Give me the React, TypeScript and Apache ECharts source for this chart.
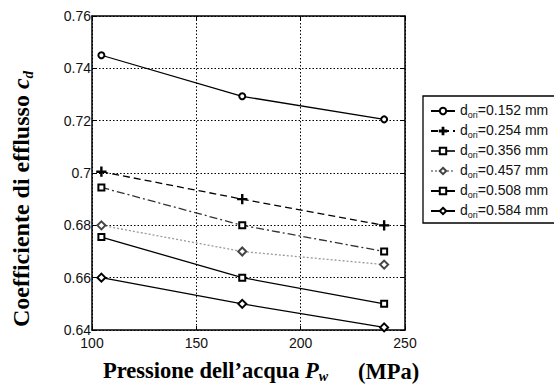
import React, { useEffect, useRef } from "react";
import * as echarts from "echarts";

const pressures = [104.5, 172, 240];
const seriesNames = ["0.152", "0.254", "0.356", "0.457", "0.508", "0.584"];
const cd152 = [0.745, 0.7293, 0.7205];
const cd254 = [0.7005, 0.69, 0.68];
const cd356 = [0.6945, 0.68, 0.67];
const cd457 = [0.68, 0.67, 0.665];
const cd508 = [0.6755, 0.66, 0.65];
const cd584 = [0.66, 0.65, 0.641];
const xTicks = [100, 150, 200, 250];
const yTicks = [0.64, 0.66, 0.68, 0.7, 0.72, 0.74, 0.76];

const PLUS = "path://M4.4,0h1.2v4.4h4.4v1.2h-4.4v4.4h-1.2v-4.4h-4.4v-1.2h4.4z";

export default function App() {
  const ref = useRef<HTMLDivElement>(null);
  useEffect(() => {
    if (!ref.current) return;
    const chart = echarts.init(ref.current, undefined, { renderer: "svg" });
    const allValues = [cd152, cd254, cd356, cd457, cd508, cd584];
    const styles = [
      { symbol: "emptyCircle", size: 6, type: "solid" as any, color: "#000", mk: "#000" },
      { symbol: PLUS, size: 9, type: [7, 4] as any, color: "#000", mk: "#000" },
      { symbol: "emptyRect", size: 6, type: [8, 3, 2, 3] as any, color: "#333", mk: "#000" },
      { symbol: "emptyDiamond", size: 8, type: [2, 2] as any, color: "#9a9a9a", mk: "#444" },
      { symbol: "emptyRect", size: 6, type: "solid" as any, color: "#000", mk: "#000" },
      { symbol: "emptyDiamond", size: 8, type: "solid" as any, color: "#000", mk: "#000" },
    ];
    const series = allValues.map((vals, i) => ({
      type: "line",
      name: seriesNames[i],
      data: vals.map((v, j) => [pressures[j], v]),
      symbol: styles[i].symbol,
      symbolSize: styles[i].size,
      showAllSymbol: true,
      lineStyle: { color: styles[i].color, width: 1.3, type: styles[i].type },
      itemStyle: {
        color: styles[i].mk,
        borderColor: styles[i].mk,
        borderWidth: 1.3,
      },
      emphasis: { disabled: true },
      z: 3,
    }));
    const axisCommon = {
      type: "value",
      axisLine: { show: true, lineStyle: { color: "#000", width: 1.5 } },
      axisTick: { show: true, inside: true, length: 4, lineStyle: { color: "#000", width: 1 } },
    };
    const mainTok = { fontSize: 14, fontFamily: "Liberation Sans", color: "#111", verticalAlign: "top", lineHeight: 16 };
    chart.setOption({
      animation: false,
      backgroundColor: "#fff",
      grid: { left: 92, top: 16, width: 313, height: 314, containLabel: false },
      xAxis: [
        {
          ...axisCommon,
          min: xTicks[0],
          max: xTicks[xTicks.length - 1],
          interval: 50,
          position: "bottom",
          axisLabel: { color: "#111", fontFamily: "Liberation Sans", fontSize: 14, margin: 6 },
          splitLine: { show: true, lineStyle: { color: "#000", type: [1.5, 2], width: 1 } },
        },
        {
          ...axisCommon,
          min: xTicks[0],
          max: xTicks[xTicks.length - 1],
          interval: 50,
          position: "top",
          axisLabel: { show: false },
          splitLine: { show: false },
        },
      ],
      yAxis: [
        {
          ...axisCommon,
          min: yTicks[0],
          max: yTicks[yTicks.length - 1],
          interval: 0.02,
          position: "left",
          axisLabel: {
            color: "#111",
            fontFamily: "Liberation Sans",
            fontSize: 14,
            margin: 1,
            formatter: (v: number) => String(Math.round(v * 100) / 100),
          },
          splitLine: { show: true, lineStyle: { color: "#000", type: [1.5, 2], width: 1 } },
        },
        {
          ...axisCommon,
          min: yTicks[0],
          max: yTicks[yTicks.length - 1],
          interval: 0.02,
          position: "right",
          axisLabel: { show: false },
          splitLine: { show: false },
        },
      ],
      legend: {
        orient: "vertical",
        left: 423,
        top: 96,
        padding: [4, 16, 4, 7],
        itemWidth: 24,
        itemHeight: 8,
        itemGap: 1,
        backgroundColor: "#fff",
        borderColor: "#000",
        borderWidth: 1.3,
        borderRadius: 0,
        selectedMode: false,
        data: seriesNames,
        formatter: (name: string) => `{d|d}{s|ori}{t|=${name} mm}`,
        textStyle: {
          color: "#111",
          fontFamily: "Liberation Sans",
          fontSize: 14,
          rich: {
            d: mainTok,
            t: mainTok,
            s: { fontSize: 9, fontFamily: "Liberation Sans", color: "#111", verticalAlign: "bottom", lineHeight: 9, padding: [10, 0, 0, 0] },
          },
        },
      },
      graphic: [
        {
          type: "text",
          x: 22,
          y: 199,
          rotation: Math.PI / 2,
          style: {
            text: "{a|Coefficiente di efflusso }{c|c}{s|d}",
            align: "center",
            verticalAlign: "middle",
            fill: "#000",
            rich: {
              a: { fontFamily: "Liberation Serif", fontWeight: "bold", fontSize: 24, verticalAlign: "top", lineHeight: 26 },
              c: { fontFamily: "Liberation Serif", fontWeight: "bold", fontStyle: "italic", fontSize: 24, verticalAlign: "top", lineHeight: 26 },
              s: { fontFamily: "Liberation Serif", fontWeight: "bold", fontStyle: "italic", fontSize: 15, verticalAlign: "bottom", lineHeight: 15, padding: [15, 0, 0, 0] },
            },
          },
        },
        {
          type: "text",
          x: 103,
          y: 371,
          style: {
            text: "{a|Pressione dell\u2019acqua }{p|P}{s|w}",
            align: "left",
            verticalAlign: "middle",
            fill: "#000",
            rich: {
              a: { fontFamily: "Liberation Serif", fontWeight: "bold", fontSize: 22.5, verticalAlign: "top", lineHeight: 24 },
              p: { fontFamily: "Liberation Serif", fontWeight: "bold", fontStyle: "italic", fontSize: 22.5, verticalAlign: "top", lineHeight: 24 },
              s: { fontFamily: "Liberation Serif", fontWeight: "bold", fontStyle: "italic", fontSize: 14, verticalAlign: "bottom", lineHeight: 14, padding: [14, 0, 0, 0] },
            },
          },
        },
        {
          type: "text",
          x: 358,
          y: 371,
          style: {
            text: "(MPa)",
            align: "left",
            verticalAlign: "middle",
            fill: "#000",
            font: "bold 22.5px 'Liberation Serif'",
          },
        },
      ],
      series,
    });
    return () => chart.dispose();
  }, []);
  return (
    <div
      ref={ref}
      style={{ position: "absolute", left: 0, top: 0, width: 554, height: 388 }}
    />
  );
}
